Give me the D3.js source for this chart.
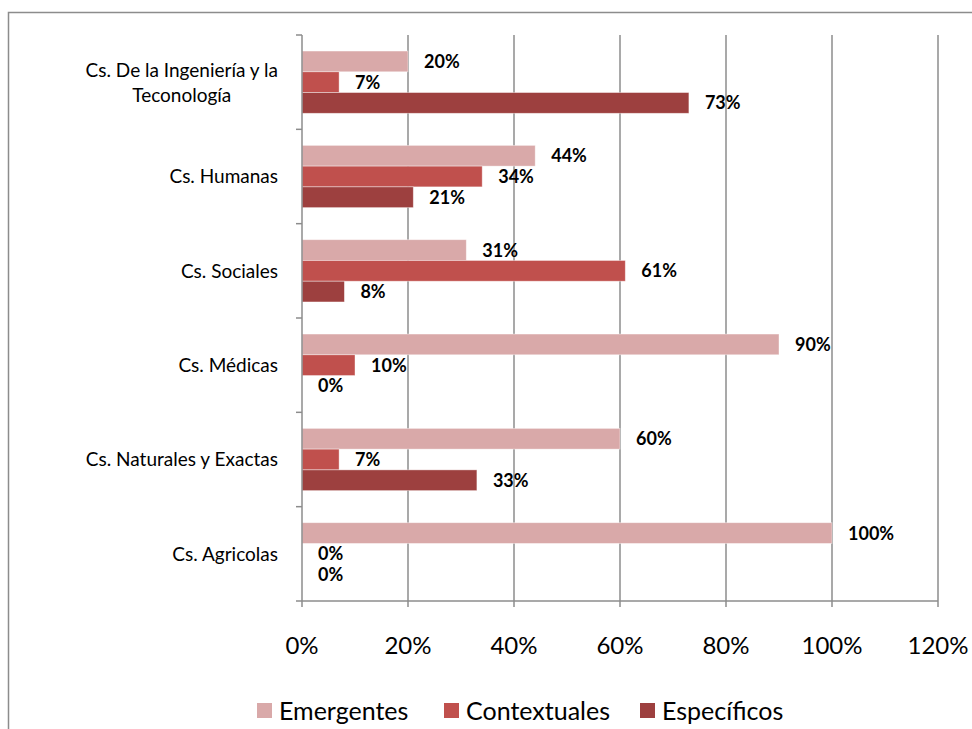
<!DOCTYPE html>
<html>
<head>
<meta charset="utf-8">
<script src="https://cdn.jsdelivr.net/npm/d3@7"></script>
<style>
  body { margin: 0; background: #fff; }
  svg { display: block; font-family: Lato, "Open Sans", sans-serif; }
</style>
</head>
<body>
<svg id="chart" width="972" height="729"></svg>
<script>
// categories top to bottom
var categories = [
  ["Cs. De la Ingeniería y la", "Teconología"],
  ["Cs. Humanas"],
  ["Cs. Sociales"],
  ["Cs. Médicas"],
  ["Cs. Naturales y Exactas"],
  ["Cs. Agricolas"]
];
var series = ["Emergentes", "Contextuales", "Específicos"];
var colors = ["#d9a9a9", "#c0504d", "#9d403f"];

// values in percent, one per category
var emergentes   = [20, 44, 31, 90, 60, 100];
var contextuales = [7, 34, 61, 10, 7, 0];
var especificos  = [73, 21, 8, 0, 33, 0];
var xTicks = [0, 20, 40, 60, 80, 100, 120];

var values = [emergentes, contextuales, especificos];

var svg = d3.select("#chart");

// outer chart border (runs off the right/bottom edge)
svg.append("rect")
  .attr("x", 8.5).attr("y", 12.5)
  .attr("width", 1000).attr("height", 1000)
  .attr("fill", "none")
  .attr("stroke", "#8c8c8c")
  .attr("stroke-width", 1.5);

var x = d3.scaleLinear().domain([0, 120]).range([302, 938]);
var y = d3.scaleBand().domain(d3.range(categories.length)).range([35, 601]).padding(0);
var bw = y.bandwidth();
var ySub = d3.scaleBand().domain(d3.range(series.length)).range([bw * 0.17, bw * 0.83]).padding(0);

// vertical gridlines
svg.append("g").selectAll("line")
  .data(xTicks.slice(1))
  .enter().append("line")
  .attr("x1", function(d) { return x(d); })
  .attr("x2", function(d) { return x(d); })
  .attr("y1", 35).attr("y2", 601)
  .attr("stroke", "#8c8c8c")
  .attr("stroke-width", 1.5);

// bars
var groups = svg.append("g").selectAll("g")
  .data(categories)
  .enter().append("g")
  .attr("transform", function(d, i) { return "translate(0," + y(i) + ")"; });

groups.each(function(cat, ci) {
  var g = d3.select(this);
  series.forEach(function(s, si) {
    var v = values[si][ci];
    if (v > 0) {
      g.append("rect")
        .attr("x", x(0))
        .attr("y", ySub(si))
        .attr("width", x(v) - x(0))
        .attr("height", ySub.bandwidth())
        .attr("fill", colors[si])
        .attr("stroke", "#fff")
        .attr("stroke-opacity", 0.5)
        .attr("stroke-width", 0.8);
    }
    g.append("text")
      .attr("x", x(v) + 16)
      .attr("y", ySub(si) + ySub.bandwidth() / 2)
      .attr("dy", "0.36em")
      .attr("font-size", 18)
      .attr("font-weight", "bold")
      .attr("fill", "#000")
      .text(v + "%");
  });
});

// y axis line + ticks
svg.append("line")
  .attr("x1", 302).attr("x2", 302)
  .attr("y1", 35).attr("y2", 601)
  .attr("stroke", "#8c8c8c").attr("stroke-width", 1.5);
svg.append("g").selectAll("line")
  .data(d3.range(categories.length + 1))
  .enter().append("line")
  .attr("x1", 296).attr("x2", 302)
  .attr("y1", function(d) { return 35 + d * bw; })
  .attr("y2", function(d) { return 35 + d * bw; })
  .attr("stroke", "#8c8c8c").attr("stroke-width", 1.5);

// category labels
var catLabels = svg.append("g").selectAll("text")
  .data(categories)
  .enter().append("text")
  .attr("font-size", 19)
  .attr("fill", "#000")
  .attr("text-anchor", "middle");
catLabels.each(function(lines, i) {
  var t = d3.select(this);
  var cy = y(i) + bw / 2;
  var lh = 25;
  var y0 = cy - (lines.length - 1) * lh / 2;
  lines.forEach(function(l, j) {
    t.append("tspan").attr("x", 0).attr("y", y0 + j * lh).attr("dy", "0.36em").text(l);
  });
  // right-align the block, centre lines within it
  var w = this.getBBox().width;
  t.selectAll("tspan").attr("x", 278 - w / 2);
});

// x axis line + ticks
svg.append("line")
  .attr("x1", 302).attr("x2", 938)
  .attr("y1", 601).attr("y2", 601)
  .attr("stroke", "#8c8c8c").attr("stroke-width", 1.5);
svg.append("g").selectAll("line")
  .data(xTicks)
  .enter().append("line")
  .attr("x1", function(d) { return x(d); })
  .attr("x2", function(d) { return x(d); })
  .attr("y1", 601).attr("y2", 607)
  .attr("stroke", "#8c8c8c").attr("stroke-width", 1.5);
svg.append("g").selectAll("text")
  .data(xTicks)
  .enter().append("text")
  .attr("x", function(d) { return x(d); })
  .attr("y", 645)
  .attr("dy", "0.36em")
  .attr("text-anchor", "middle")
  .attr("font-size", 24)
  .attr("fill", "#000")
  .text(function(d) { return d + "%"; });

// legend
var legendX = [257, 444, 640];
var legend = svg.append("g").selectAll("g")
  .data(series)
  .enter().append("g")
  .attr("transform", function(d, i) { return "translate(" + legendX[i] + ",703)"; });
legend.append("rect")
  .attr("width", 15).attr("height", 15)
  .attr("fill", function(d, i) { return colors[i]; });
legend.append("text")
  .attr("x", 22).attr("y", 7.5)
  .attr("dy", "0.36em")
  .attr("font-size", 25)
  .attr("fill", "#000")
  .text(function(d) { return d; });
</script>
</body>
</html>
